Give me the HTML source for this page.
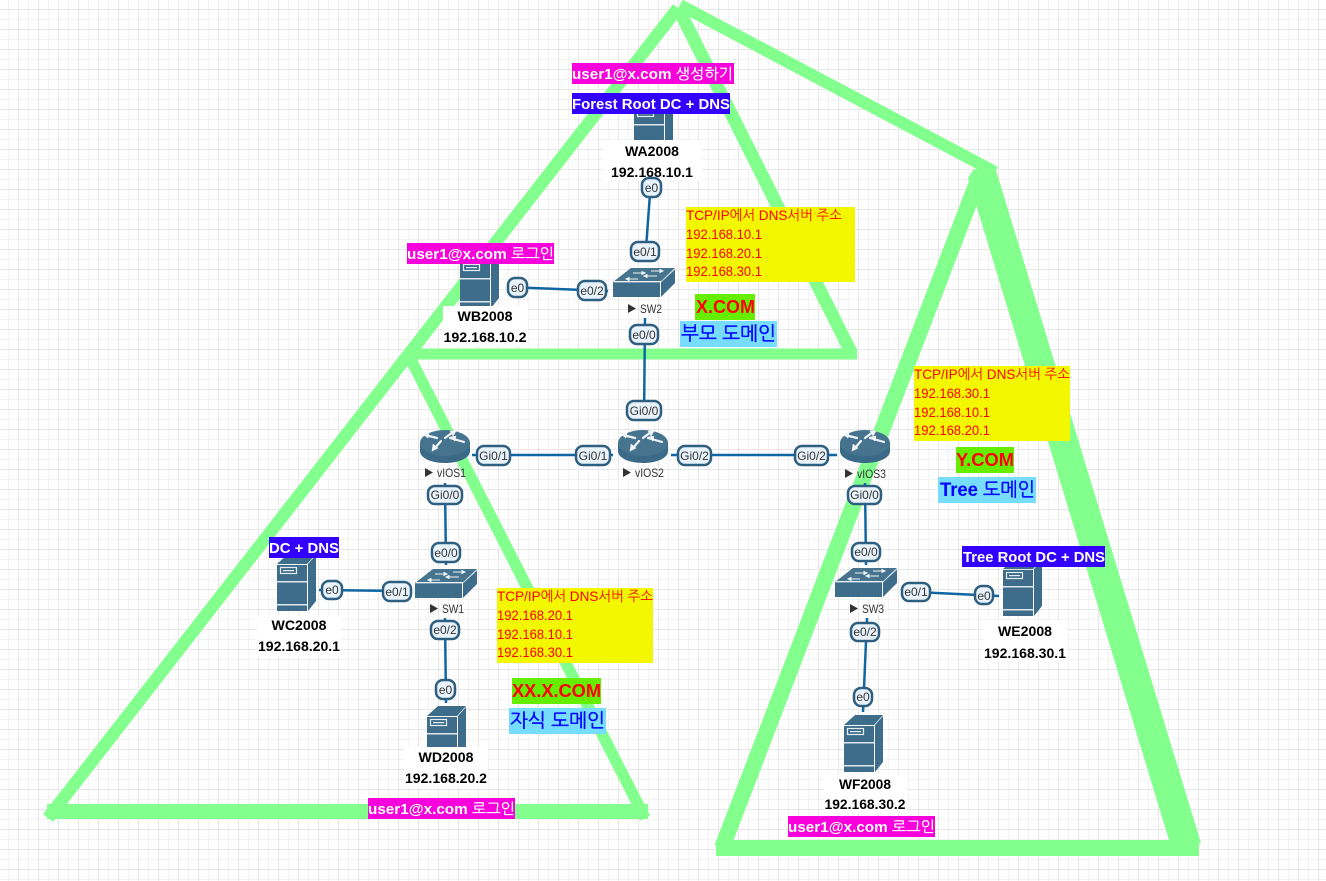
<!DOCTYPE html>
<html><head><meta charset="utf-8"><title>Network diagram</title>
<style>
html,body{margin:0;padding:0;background:#fff;width:1326px;height:881px;overflow:hidden}
svg{display:block;font-family:"Liberation Sans","NanumGothic","Noto Sans CJK KR",sans-serif}
.tri{stroke:#82ff8d;fill:none}
.lnk{stroke:#0f66a3;stroke-width:2.5;fill:none}
.p rect{fill:#e8f3fb;stroke:#2f5f80;stroke-width:2.5}
.p text{font-size:12px;fill:#333;text-anchor:middle}
.nm{font-size:14px;font-weight:bold;fill:#000;text-anchor:middle}
.lb{font-size:12px;fill:#333}
.b15{font-size:15px;font-weight:bold;fill:#fff}
.b15 tspan{font-weight:normal;stroke:#fff;stroke-width:.25}
.y{font-size:14px;fill:#f00}
.dom{font-size:18px;font-weight:bold;fill:#f00}
.kor{font-size:19px;font-weight:bold;fill:#00f}
.kor tspan{font-weight:normal;stroke:#00f;stroke-width:.4}
</style></head><body>
<svg width="1326" height="881" viewBox="0 0 1326 881" xmlns="http://www.w3.org/2000/svg">
<defs>
<pattern id="g" width="20" height="20" patternUnits="userSpaceOnUse">
<path d="M8.5 0V20M0 19.5H20" stroke="#f3f3f3" stroke-width="1" fill="none"/>
<path d="M18.5 0V20M0 9.5H20" stroke="#e7e7e7" stroke-width="1" fill="none"/>
</pattern>
<g id="srv">
<path d="M0 10 L11 0 H39 L30 10Z" fill="#3e6d8c"/>
<path d="M31 10 L39 1 V47 L31 57Z" fill="#3e6d8c"/>
<rect x="0" y="11" width="30" height="46" fill="#3e6d8c"/>
<rect x="0" y="27" width="30" height="1.5" fill="#dfe8ee"/>
<rect x="0" y="50" width="30" height="1.5" fill="#dfe8ee"/>
<rect x="3.5" y="13.5" width="16" height="6" fill="none" stroke="#e6eef3" stroke-width="1.2"/>
<rect x="6" y="16" width="11" height="1.2" fill="#e6eef3"/>
</g>
<g id="rtr">
<path d="M0 13 V21 C0 28 11 33 25 33 S50 28 50 21 V13Z" fill="#3b6a88"/>
<ellipse cx="25" cy="13" rx="25" ry="13" fill="#46748f"/>
<g fill="#f1f5f8" stroke="#f1f5f8" stroke-width="2.2" stroke-linecap="round">
<path d="M5 5 L17 8"/><path d="M3 4 L9 3 L8 8Z" stroke-width=".5"/>
<path d="M25 8 L33 2"/><path d="M36 1 L30 1 L33 6Z" stroke-width=".5"/>
<path d="M30 8 L44 12"/><path d="M30 7 L36 6 L35 11Z" stroke-width=".5"/>
<path d="M21 11 L15 18"/><path d="M12 21 L13 14 L18 18Z" stroke-width=".5"/>
</g>
</g>
<g id="swt">
<path d="M0 14 L18 0 H62 L48 13 H0Z" fill="#46748f"/>
<rect x="0" y="14" width="47" height="15" fill="#3e6d8c"/>
<path d="M48 13 L62 1 V15 L48 29Z" fill="#3e6d8c"/>
<path d="M0 14 H48 L62 1" stroke="#dfe8ee" stroke-width=".8" fill="none"/>
<path d="M20 5 H32 M32 5 l-3 -1.5 v3Z M38 3 H50 M50 3 l-3 -1.5 v3Z M13 11 H25 M13 11 l3 -1.5 v3Z M31 8 H44 M31 8 l3 -1.5 v3Z" stroke="#eef3f6" stroke-width="1" fill="#eef3f6"/>
</g>
<path id="arr" d="M0 0 L8 4.5 L0 9Z" fill="#333"/>
</defs>

<rect width="1326" height="881" fill="#fff"/>
<rect width="1326" height="881" fill="url(#g)"/>

<!-- green triangles -->
<g class="tri">
<line x1="678" y1="8" x2="48" y2="818" stroke-width="12.5"/>
<line x1="678" y1="8" x2="851" y2="352" stroke-width="13"/>
<line x1="408" y1="354" x2="857" y2="354" stroke-width="11"/>
<line x1="410" y1="358" x2="645" y2="818" stroke-width="11.5"/>
<line x1="47" y1="811.5" x2="648" y2="811.5" stroke-width="15"/>
<line x1="680" y1="5" x2="995" y2="172" stroke-width="12"/>
<line x1="981" y1="172" x2="722" y2="848" stroke-width="16"/>
<line x1="716" y1="848" x2="1199" y2="848" stroke-width="16"/>
</g>
<polygon points="973,170 995,167 1201,843 1172,850 968,178" fill="#82ff8d"/>

<!-- links -->
<g class="lnk">
<path d="M651 180 L645 262"/>
<path d="M507 287 L608 291"/>
<path d="M645 318 L644 421"/>
<path d="M472 455 H613"/>
<path d="M671 455 H837"/>
<path d="M445 483 L446 565"/>
<path d="M319 590 L410 591"/>
<path d="M445 618 L446 703"/>
<path d="M865 483 L866 565"/>
<path d="M916 592 L999 596"/>
<path d="M867 618 L863 712"/>
</g>

<!-- icons -->
<use href="#srv" x="634" y="97"/>
<use href="#srv" x="460" y="251"/>
<use href="#srv" x="277" y="554"/>
<use href="#srv" x="427" y="706"/>
<use href="#srv" x="1003" y="559"/>
<use href="#srv" x="844" y="715"/>
<use href="#rtr" x="420" y="430"/>
<use href="#rtr" x="618" y="430"/>
<use href="#rtr" x="840" y="430"/>
<use href="#swt" x="415" y="569"/>
<use href="#swt" x="613" y="268"/>
<use href="#swt" x="835" y="568"/>

<!-- device labels -->
<use href="#arr" x="425" y="468"/><text class="lb" x="437" y="477" textLength="29" lengthAdjust="spacingAndGlyphs">vIOS1</text>
<use href="#arr" x="623" y="468"/><text class="lb" x="635" y="477" textLength="29" lengthAdjust="spacingAndGlyphs">vIOS2</text>
<use href="#arr" x="845" y="469"/><text class="lb" x="857" y="478" textLength="29" lengthAdjust="spacingAndGlyphs">vIOS3</text>
<use href="#arr" x="430" y="604"/><text class="lb" x="442" y="613" textLength="22" lengthAdjust="spacingAndGlyphs">SW1</text>
<use href="#arr" x="628" y="304"/><text class="lb" x="640" y="313" textLength="22" lengthAdjust="spacingAndGlyphs">SW2</text>
<use href="#arr" x="850" y="604"/><text class="lb" x="862" y="613" textLength="22" lengthAdjust="spacingAndGlyphs">SW3</text>

<!-- name plates -->
<g fill="#fff">
<rect x="603" y="140" width="99" height="41"/>
<rect x="443" y="306" width="85" height="40"/>
<rect x="257" y="615" width="84" height="42"/>
<rect x="404" y="747" width="84" height="41"/>
<rect x="983" y="620" width="84" height="42"/>
<rect x="824" y="774" width="83" height="39"/>
</g>
<g class="nm">
<text x="652" y="156" textLength="54" lengthAdjust="spacingAndGlyphs">WA2008</text>
<text x="652" y="177" textLength="82" lengthAdjust="spacingAndGlyphs">192.168.10.1</text>
<text x="485" y="321" textLength="55" lengthAdjust="spacingAndGlyphs">WB2008</text>
<text x="485" y="342" textLength="83" lengthAdjust="spacingAndGlyphs">192.168.10.2</text>
<text x="299" y="630" textLength="55" lengthAdjust="spacingAndGlyphs">WC2008</text>
<text x="299" y="651" textLength="82" lengthAdjust="spacingAndGlyphs">192.168.20.1</text>
<text x="446" y="762" textLength="55" lengthAdjust="spacingAndGlyphs">WD2008</text>
<text x="446" y="783" textLength="82" lengthAdjust="spacingAndGlyphs">192.168.20.2</text>
<text x="1025" y="636" textLength="54" lengthAdjust="spacingAndGlyphs">WE2008</text>
<text x="1025" y="658" textLength="82" lengthAdjust="spacingAndGlyphs">192.168.30.1</text>
<text x="865" y="789" textLength="52" lengthAdjust="spacingAndGlyphs">WF2008</text>
<text x="865" y="809" textLength="81" lengthAdjust="spacingAndGlyphs">192.168.30.2</text>
</g>

<!-- port pills -->
<g class="p">
<g><rect x="642" y="178" width="19" height="19" rx="7"/><text x="651.5" y="192">e0</text></g>
<g><rect x="631" y="242" width="28" height="19" rx="7"/><text x="645" y="256">e0/1</text></g>
<g><rect x="508" y="278" width="19" height="19" rx="7"/><text x="517.5" y="292">e0</text></g>
<g><rect x="578" y="281" width="28" height="19" rx="7"/><text x="592" y="295">e0/2</text></g>
<g><rect x="630" y="325" width="28" height="19" rx="7"/><text x="644" y="339">e0/0</text></g>
<g><rect x="627" y="401" width="34" height="19" rx="7"/><text x="644" y="415">Gi0/0</text></g>
<g><rect x="477" y="446" width="33" height="19" rx="7"/><text x="493.5" y="460">Gi0/1</text></g>
<g><rect x="576" y="446" width="34" height="19" rx="7"/><text x="593" y="460">Gi0/1</text></g>
<g><rect x="678" y="446" width="33" height="19" rx="7"/><text x="694.5" y="460">Gi0/2</text></g>
<g><rect x="795" y="446" width="33" height="19" rx="7"/><text x="811.5" y="460">Gi0/2</text></g>
<g><rect x="428" y="486" width="34" height="18" rx="7"/><text x="445" y="499">Gi0/0</text></g>
<g><rect x="432" y="543" width="28" height="19" rx="7"/><text x="446" y="557">e0/0</text></g>
<g><rect x="383" y="582" width="28" height="19" rx="7"/><text x="397" y="596">e0/1</text></g>
<g><rect x="322" y="581" width="20" height="18" rx="7"/><text x="332" y="594">e0</text></g>
<g><rect x="431" y="621" width="28" height="18" rx="7"/><text x="445" y="634">e0/2</text></g>
<g><rect x="436" y="680" width="19" height="19" rx="7"/><text x="445.5" y="694">e0</text></g>
<g><rect x="848" y="486" width="33" height="18" rx="7"/><text x="864.5" y="499">Gi0/0</text></g>
<g><rect x="852" y="543" width="28" height="18" rx="7"/><text x="866" y="556">e0/0</text></g>
<g><rect x="902" y="583" width="28" height="18" rx="7"/><text x="916" y="596">e0/1</text></g>
<g><rect x="975" y="586" width="18" height="18" rx="7"/><text x="984" y="600">e0</text></g>
<g><rect x="851" y="623" width="28" height="18" rx="7"/><text x="865" y="636">e0/2</text></g>
<g><rect x="854" y="688" width="18" height="18" rx="7"/><text x="863" y="701">e0</text></g>
</g>

<!-- yellow boxes -->
<rect x="686" y="207" width="169" height="75" fill="#f3f800"/>
<g class="y">
<text x="686" y="220" textLength="156" lengthAdjust="spacingAndGlyphs">TCP/IP에서 DNS서버 주소</text>
<text x="686" y="239" textLength="76" lengthAdjust="spacingAndGlyphs">192.168.10.1</text>
<text x="686" y="258" textLength="76" lengthAdjust="spacingAndGlyphs">192.168.20.1</text>
<text x="686" y="276" textLength="76" lengthAdjust="spacingAndGlyphs">192.168.30.1</text>
</g>
<rect x="497" y="588" width="156" height="75" fill="#f3f800"/>
<g class="y">
<text x="497" y="601" textLength="156" lengthAdjust="spacingAndGlyphs">TCP/IP에서 DNS서버 주소</text>
<text x="497" y="620" textLength="76" lengthAdjust="spacingAndGlyphs">192.168.20.1</text>
<text x="497" y="639" textLength="76" lengthAdjust="spacingAndGlyphs">192.168.10.1</text>
<text x="497" y="657" textLength="76" lengthAdjust="spacingAndGlyphs">192.168.30.1</text>
</g>
<rect x="914" y="366" width="156" height="75" fill="#f3f800"/>
<g class="y">
<text x="914" y="379" textLength="156" lengthAdjust="spacingAndGlyphs">TCP/IP에서 DNS서버 주소</text>
<text x="914" y="398" textLength="76" lengthAdjust="spacingAndGlyphs">192.168.30.1</text>
<text x="914" y="417" textLength="76" lengthAdjust="spacingAndGlyphs">192.168.10.1</text>
<text x="914" y="435" textLength="76" lengthAdjust="spacingAndGlyphs">192.168.20.1</text>
</g>

<!-- domain labels -->
<rect x="695" y="294" width="60" height="26" fill="#66ee00"/>
<text class="dom" x="696" y="313" textLength="59" lengthAdjust="spacingAndGlyphs">X.COM</text>
<rect x="680" y="321" width="97" height="26" fill="#77ddff"/>
<text class="kor" x="681" y="340" textLength="95" lengthAdjust="spacingAndGlyphs"><tspan>부모 도메인</tspan></text>
<rect x="512" y="678" width="89" height="26" fill="#66ee00"/>
<text class="dom" x="512" y="697" textLength="89" lengthAdjust="spacingAndGlyphs">XX.X.COM</text>
<rect x="509" y="708" width="97" height="26" fill="#77ddff"/>
<text class="kor" x="510" y="727" textLength="95" lengthAdjust="spacingAndGlyphs"><tspan>자식 도메인</tspan></text>
<rect x="956" y="447" width="58" height="26" fill="#66ee00"/>
<text class="dom" x="956" y="466" textLength="58" lengthAdjust="spacingAndGlyphs">Y.COM</text>
<rect x="938" y="477" width="98" height="26" fill="#77ddff"/>
<text class="kor" x="940" y="496" textLength="95" lengthAdjust="spacingAndGlyphs">Tree <tspan>도메인</tspan></text>

<!-- magenta / blue tags -->
<rect x="572" y="63" width="162" height="21" fill="#f800dc"/>
<text class="b15" x="572" y="79" textLength="161" lengthAdjust="spacingAndGlyphs">user1@x.com <tspan>생성하기</tspan></text>
<rect x="572" y="93" width="158" height="21" fill="#3300ff"/>
<text class="b15" x="572" y="109" textLength="158" lengthAdjust="spacingAndGlyphs">Forest Root DC + DNS</text>
<rect x="407" y="243" width="147" height="21" fill="#f800dc"/>
<text class="b15" x="407" y="259" textLength="147" lengthAdjust="spacingAndGlyphs">user1@x.com <tspan>로그인</tspan></text>
<rect x="269" y="537" width="70" height="21" fill="#3300ff"/>
<text class="b15" x="269" y="553" textLength="70" lengthAdjust="spacingAndGlyphs">DC + DNS</text>
<rect x="368" y="798" width="147" height="21" fill="#f800dc"/>
<text class="b15" x="368" y="814" textLength="147" lengthAdjust="spacingAndGlyphs">user1@x.com <tspan>로그인</tspan></text>
<rect x="962" y="546" width="143" height="21" fill="#3300ff"/>
<text class="b15" x="963" y="562" textLength="142" lengthAdjust="spacingAndGlyphs">Tree Root DC + DNS</text>
<rect x="788" y="816" width="147" height="21" fill="#f800dc"/>
<text class="b15" x="788" y="832" textLength="147" lengthAdjust="spacingAndGlyphs">user1@x.com <tspan>로그인</tspan></text>
</svg>
</body></html>
